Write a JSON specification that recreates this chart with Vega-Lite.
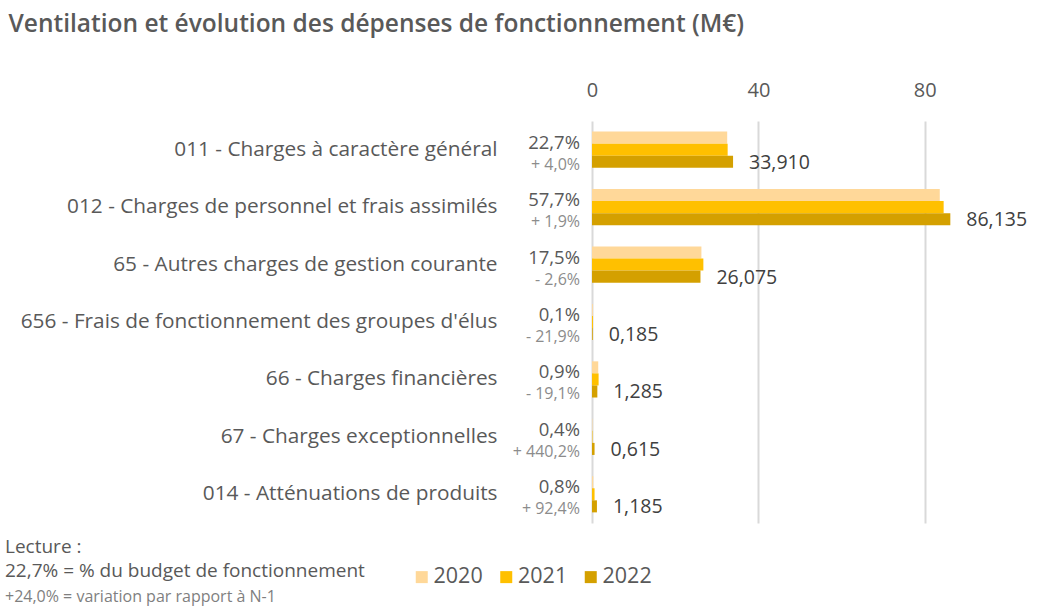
{
  "$schema": "https://vega.github.io/schema/vega-lite/v6.json",
  "autosize": {"type": "none"},
  "padding": {"left": 592, "top": 121, "right": 50, "bottom": 88},
  "width": 416,
  "height": 402,
  "background": "white",
  "config": {
    "view": {"stroke": null},
    "font": "Open Sans",
    "locale": {"number": {"decimal": ",", "thousands": " ", "grouping": [3], "currency": ["", " €"]}}
  },
  "title": {
    "text": ["Lecture :", "22,7% = % du budget de fonctionnement"],
    "subtitle": "+24,0% = variation par rapport à N-1",
    "orient": "bottom",
    "anchor": "start",
    "frame": "bounds",
    "font": "Open Sans",
    "fontSize": 19,
    "fontWeight": "normal",
    "color": "#595959",
    "lineHeight": 24,
    "subtitleFont": "Open Sans",
    "subtitleFontSize": 16,
    "subtitleColor": "#7f7f7f",
    "subtitlePadding": 8,
    "offset": 10,
    "dy": -60,
    "dx": -3
  },
  "datasets": {
    "bars": [
      {"cat": "011 - Charges à caractère général", "year": "2020", "value": 32.5},
      {"cat": "011 - Charges à caractère général", "year": "2021", "value": 32.61},
      {"cat": "011 - Charges à caractère général", "year": "2022", "value": 33.91},
      {"cat": "012 - Charges de personnel et frais assimilés", "year": "2020", "value": 83.6},
      {"cat": "012 - Charges de personnel et frais assimilés", "year": "2021", "value": 84.53},
      {"cat": "012 - Charges de personnel et frais assimilés", "year": "2022", "value": 86.135},
      {"cat": "65 - Autres charges de gestion courante", "year": "2020", "value": 26.3},
      {"cat": "65 - Autres charges de gestion courante", "year": "2021", "value": 26.77},
      {"cat": "65 - Autres charges de gestion courante", "year": "2022", "value": 26.075},
      {"cat": "656 - Frais de fonctionnement des groupes d'élus", "year": "2020", "value": 0.2},
      {"cat": "656 - Frais de fonctionnement des groupes d'élus", "year": "2021", "value": 0.237},
      {"cat": "656 - Frais de fonctionnement des groupes d'élus", "year": "2022", "value": 0.185},
      {"cat": "66 - Charges financières", "year": "2020", "value": 1.5},
      {"cat": "66 - Charges financières", "year": "2021", "value": 1.588},
      {"cat": "66 - Charges financières", "year": "2022", "value": 1.285},
      {"cat": "67 - Charges exceptionnelles", "year": "2020", "value": 0.1},
      {"cat": "67 - Charges exceptionnelles", "year": "2021", "value": 0.114},
      {"cat": "67 - Charges exceptionnelles", "year": "2022", "value": 0.615},
      {"cat": "014 - Atténuations de produits", "year": "2020", "value": 0.3},
      {"cat": "014 - Atténuations de produits", "year": "2021", "value": 0.616},
      {"cat": "014 - Atténuations de produits", "year": "2022", "value": 1.185}
    ],
    "shares": [
      {"cat": "011 - Charges à caractère général", "pct": "22,7%", "var": "+ 4,0%"},
      {"cat": "012 - Charges de personnel et frais assimilés", "pct": "57,7%", "var": "+ 1,9%"},
      {"cat": "65 - Autres charges de gestion courante", "pct": "17,5%", "var": "- 2,6%"},
      {"cat": "656 - Frais de fonctionnement des groupes d'élus", "pct": "0,1%", "var": "- 21,9%"},
      {"cat": "66 - Charges financières", "pct": "0,9%", "var": "- 19,1%"},
      {"cat": "67 - Charges exceptionnelles", "pct": "0,4%", "var": "+ 440,2%"},
      {"cat": "014 - Atténuations de produits", "pct": "0,8%", "var": "+ 92,4%"}
    ]
  },
  "layer": [
    {
      "data": {"name": "bars"},
      "mark": {"type": "bar"},
      "encoding": {
        "y": {
          "field": "cat", "type": "nominal", "sort": null,
          "scale": {"paddingInner": 0.37, "paddingOuter": 0.185},
          "axis": {
            "title": null, "domain": false, "ticks": false, "tickSize": 0,
            "labelPadding": 95, "labelFontSize": 20.8, "labelColor": "#595959",
            "labelFont": "Open Sans", "labelLimit": 600
          }
        },
        "yOffset": {"field": "year", "type": "nominal"},
        "x": {
          "field": "value", "type": "quantitative",
          "scale": {"domain": [0, 100], "nice": false},
          "axis": {
            "orient": "top", "values": [0, 40, 80], "domain": false, "ticks": false, "tickSize": 0,
            "labelFlush": false,
            "labelPadding": 21, "labelFontSize": 20, "labelColor": "#595959", "labelFont": "Open Sans",
            "grid": true, "gridColor": "#d9d9d9", "gridWidth": 2,
            "title": "Ventilation et évolution des dépenses de fonctionnement (M€)",
            "titleFont": "Open Sans", "titleFontSize": 24.5, "titleFontWeight": 600, "titleColor": "#595959",
            "titleX": -584, "titleY": -97, "titleAlign": "left", "titleAnchor": "start", "titleBaseline": "middle", "titleAngle": 0
          }
        },
        "color": {
          "field": "year", "type": "nominal",
          "scale": {"domain": ["2020", "2021", "2022"], "range": ["#FFD899", "#FFC000", "#D4A000"]},
          "legend": {
            "title": null, "orient": "none", "direction": "horizontal",
            "legendX": -181, "legendY": 445,
            "symbolType": "square", "symbolSize": 144, "symbolStrokeWidth": 0,
            "labelFontSize": 21.5, "labelColor": "#595959", "labelFont": "Open Sans",
            "labelOffset": 1, "columnPadding": 12.5
          }
        }
      }
    },
    {
      "data": {"name": "bars"},
      "transform": [{"filter": "datum.year === '2022'"}],
      "mark": {"type": "text", "align": "left", "baseline": "middle", "dx": 16, "dy": 1, "fontSize": 19.5, "color": "#404040", "font": "Open Sans"},
      "encoding": {
        "y": {"field": "cat", "type": "nominal", "sort": null},
        "yOffset": {"field": "year", "type": "nominal", "scale": {"domain": ["2020", "2021", "2022"]}},
        "x": {"field": "value", "type": "quantitative"},
        "text": {"field": "value", "type": "quantitative", "format": ".3f"}
      }
    },
    {
      "data": {"name": "shares"},
      "mark": {"type": "text", "align": "right", "baseline": "middle", "dx": -12, "dy": -7, "fontSize": 18.5, "color": "#595959", "font": "Open Sans"},
      "encoding": {
        "y": {"field": "cat", "type": "nominal", "sort": null},
        "x": {"datum": 0},
        "text": {"field": "pct"}
      }
    },
    {
      "data": {"name": "shares"},
      "mark": {"type": "text", "align": "right", "baseline": "middle", "dx": -12, "dy": 15, "fontSize": 16, "color": "#8c8c8c", "font": "Open Sans"},
      "encoding": {
        "y": {"field": "cat", "type": "nominal", "sort": null},
        "x": {"datum": 0},
        "text": {"field": "var"}
      }
    }
  ]
}
